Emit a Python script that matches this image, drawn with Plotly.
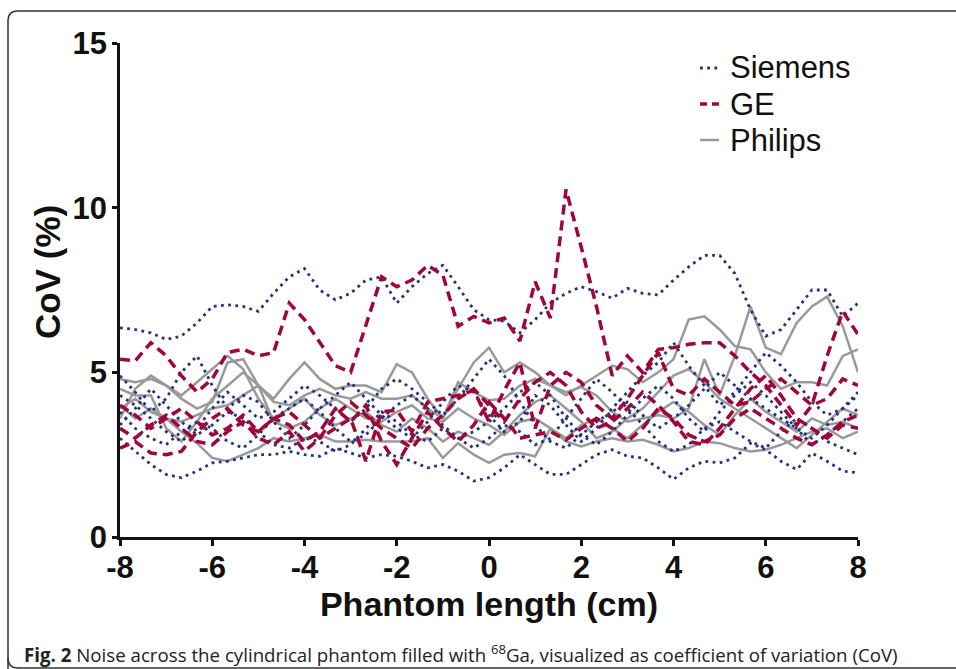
import plotly.graph_objects as go

# Positions along the phantom (cm)
X = [-8, -7.67, -7.33, -7, -6.67, -6.33, -6, -5.67, -5.33, -5, -4.67, -4.33, -4,
     -3.67, -3.33, -3, -2.67, -2.33, -2, -1.67, -1.33, -1, -0.67, -0.33, 0,
     0.33, 0.67, 1, 1.33, 1.67, 2, 2.33, 2.67, 3, 3.33, 3.67, 4, 4.33, 4.67,
     5, 5.33, 5.67, 6, 6.33, 6.67, 7, 7.33, 7.67, 8]

# Siemens CoV (%)
SIEMENS_1 = [6.35, 6.3, 6.2, 6.0, 6.1, 6.5, 7.0, 7.05, 7.0, 6.85, 7.4, 7.9, 8.15,
             7.5, 7.2, 7.4, 7.8, 7.9, 7.1, 7.6, 8.0, 8.25, 7.6, 6.9, 6.6,
             6.55, 6.2, 6.6, 7.1, 7.4, 7.6, 7.45, 7.25, 7.55, 7.4, 7.35, 7.8, 8.2, 8.55,
             8.55, 8.0, 6.9, 6.1, 6.3, 6.9, 7.5, 7.5, 6.7, 7.1]
SIEMENS_2 = [3.0, 2.6, 2.2, 1.9, 1.8, 2.0, 2.25, 2.3, 2.4, 2.5, 2.5, 2.6, 2.5,
             2.45, 2.7, 2.55, 2.4, 2.5, 2.45, 2.3, 2.1, 2.2, 2.0, 1.7, 1.8,
             2.1, 2.5, 2.2, 1.9, 1.9, 2.2, 2.5, 2.65, 2.45, 2.4, 2.1, 1.75, 2.1, 2.3,
             2.25, 2.4, 2.85, 2.65, 2.3, 2.05, 2.55, 2.3, 2.0, 1.95]
SIEMENS_3 = [4.9, 4.4, 3.8, 4.2, 5.0, 5.5, 4.6, 3.9, 4.3, 4.1, 3.5, 3.0, 3.4,
             3.9, 4.3, 4.7, 4.2, 3.7, 3.3, 3.0, 3.5, 4.1, 4.6, 4.4, 3.7,
             3.2, 3.5, 4.3, 4.0, 3.4, 2.9, 3.3, 3.9, 4.4, 4.9, 5.3, 5.9, 5.2, 4.6,
             4.0, 4.4, 5.0, 5.6, 5.2, 4.7, 4.1, 3.7, 3.9, 4.3]
SIEMENS_4 = [3.8, 3.3, 3.0, 2.8, 3.2, 3.5, 3.3, 2.9, 2.7, 3.1, 3.6, 3.9, 4.2,
             3.8, 3.3, 2.9, 3.1, 3.6, 4.0, 4.3, 3.9, 3.4, 3.0, 3.2, 3.5,
             3.9, 4.4, 4.7, 4.3, 3.6, 3.1, 2.8, 3.2, 3.7, 4.2, 4.6, 4.2, 3.6, 3.2,
             3.8, 4.3, 4.7, 4.3, 3.8, 3.3, 2.8, 3.1, 3.5, 3.9]
SIEMENS_5 = [3.4, 3.9, 4.5, 4.0, 3.5, 3.1, 3.4, 3.8, 3.6, 3.2, 2.8, 2.7, 3.0,
             2.9, 2.6, 2.8, 3.3, 3.8, 3.5, 3.1, 2.9, 3.3, 3.0, 2.7, 3.0,
             3.4, 3.2, 2.8, 3.0, 3.6, 4.2, 4.8, 4.4, 3.9, 3.4, 2.9, 2.6, 2.8, 3.3,
             3.5, 3.2, 2.9, 2.7, 3.2, 3.6, 3.3, 2.9, 2.7, 2.5]
SIEMENS_6 = [4.3, 4.0, 3.6, 3.2, 2.9, 3.3, 3.9, 4.4, 4.0, 3.6, 3.8, 4.2, 4.6,
             4.3, 3.9, 3.5, 3.9, 4.5, 4.8, 4.5, 4.1, 3.7, 4.2, 4.8, 5.4,
             4.9, 4.1, 3.4, 2.9, 2.7, 3.1, 3.5, 3.8, 4.1, 3.7, 3.3, 3.6, 4.0, 4.5,
             5.0, 4.6, 4.2, 3.9, 3.6, 3.3, 3.0, 3.4, 3.9, 4.4]

# GE CoV (%)
GE_1 = [5.4, 5.35, 5.9, 5.5, 4.9, 4.4, 4.8, 5.6, 5.7, 5.5, 5.6, 7.1, 6.6,
        5.9, 5.2, 5.0, 6.4, 7.9, 7.6, 7.8, 8.25, 7.95, 6.4, 6.7, 6.5,
        6.65, 5.95, 7.75, 6.65, 10.55, 8.8, 7.0, 4.9, 5.5, 5.0, 5.7, 5.75, 5.85, 5.9,
        5.9, 5.5, 5.0, 4.6, 4.0, 3.4, 4.0, 5.5, 6.85, 6.15]
GE_2 = [2.7, 2.9, 2.55, 2.5, 2.6, 3.2, 3.6, 3.9, 3.4, 3.2, 3.6, 3.8, 3.4,
        3.0, 3.3, 3.6, 2.3, 3.8, 3.85, 3.2, 4.1, 4.2, 4.3, 4.45, 3.5,
        4.45, 5.3, 3.3, 4.6, 5.0, 4.7, 4.0, 3.6, 4.2, 4.9, 5.6, 4.5, 4.3, 4.8,
        4.4, 4.0, 4.1, 4.5, 4.8, 4.4, 4.0, 4.2, 4.8, 4.6]
GE_3 = [4.0, 3.7, 3.3, 3.6, 3.9, 3.5, 3.1, 3.3, 3.7, 3.2, 3.6, 3.4, 2.9,
        3.2, 3.9, 3.5, 4.0, 2.9, 2.2, 3.0, 3.8, 3.3, 2.9, 3.4, 4.1,
        3.6, 3.0, 3.1, 3.2, 2.95, 3.3, 3.6, 3.3, 2.9, 3.3, 3.9, 3.6, 3.1, 2.9,
        3.1, 3.6, 3.9, 3.6, 3.3, 3.0, 2.8, 3.1, 3.5, 3.7]
GE_4 = [3.3, 3.0, 3.4, 3.7, 3.3, 2.9, 2.8, 3.2, 3.5, 3.0, 2.8, 3.2, 2.6,
        3.0, 3.7, 4.1, 3.7, 3.3, 3.0, 2.7, 3.3, 3.7, 4.2, 4.5, 4.0,
        3.5, 4.2, 4.7, 5.0, 4.6, 3.8, 3.3, 3.5, 3.9, 4.4, 4.0, 3.5, 2.9, 2.8,
        3.3, 3.9, 4.5, 4.9, 4.3, 3.6, 3.3, 3.0, 3.4, 3.3]

# Philips CoV (%)
PHILIPS_1 = [4.8, 4.7, 4.8, 4.6, 4.2, 3.9, 4.1, 5.3, 5.4, 4.6, 4.2, 4.8, 5.3,
             4.8, 4.5, 4.6, 4.6, 4.4, 5.25, 5.0, 4.2, 3.6, 4.5, 5.3, 5.75,
             5.0, 5.3, 5.0, 4.6, 4.3, 4.6, 4.9, 5.2, 5.1, 4.7, 5.0, 5.4, 6.6, 6.7,
             6.3, 5.8, 5.7, 5.0, 4.5, 4.7, 4.7, 4.6, 5.5, 5.7]
PHILIPS_2 = [4.5, 4.3, 4.3, 3.3, 2.9, 3.5, 4.2, 4.6, 5.0, 4.6, 4.1, 4.0, 4.3,
             4.5, 4.3, 4.2, 4.4, 4.2, 4.2, 4.3, 3.9, 3.6, 4.7, 4.4, 4.15,
             4.2, 4.6, 4.8, 4.6, 4.4, 4.55, 4.3, 3.8, 3.5, 3.6, 3.7, 3.6, 3.9, 5.4,
             4.3, 5.5, 7.0, 5.75, 5.55, 6.5, 7.0, 7.3, 6.4, 5.0]
PHILIPS_3 = [3.9, 4.2, 3.8, 3.6, 3.5, 3.7, 3.9, 4.0, 4.3, 4.6, 3.5, 3.3, 3.5,
             3.9, 4.2, 3.9, 3.6, 3.5, 3.8, 4.0, 3.6, 3.5, 3.9, 3.6, 3.4,
             3.1, 3.5, 3.6, 3.3, 3.0, 3.4, 3.6, 3.3, 3.0, 3.4, 3.8, 4.1, 3.8, 3.4,
             3.1, 3.7, 4.2, 3.8, 3.5, 3.2, 3.6, 3.4, 3.5, 3.3]
PHILIPS_4 = [4.0, 3.6, 3.9, 3.6, 3.2, 2.85, 2.4, 2.3, 2.5, 2.7, 3.0, 2.9, 3.0,
             3.1, 2.9, 2.9, 2.95, 2.9, 2.9, 2.9, 3.0, 2.4, 2.85, 2.5, 2.25,
             2.5, 2.55, 2.45, 3.3, 2.9, 2.75, 2.9, 3.0, 2.9, 2.95, 2.8, 2.6, 2.7, 2.9,
             2.85, 2.7, 2.6, 2.65, 2.8, 3.0, 3.2, 3.3, 3.0, 3.2]
PHILIPS_5 = [3.6, 4.5, 4.9, 4.6, 4.3, 4.7, 5.1, 5.5, 5.1, 4.2, 3.6, 3.9, 4.2,
             3.7, 3.4, 3.6, 3.8, 3.4, 3.2, 3.6, 3.3, 2.9, 3.2, 3.0, 2.8,
             3.2, 3.7, 4.1, 4.3, 3.9, 3.5, 3.0, 3.2, 3.6, 3.9, 4.4, 4.9, 5.1, 4.7,
             4.2, 3.9, 3.6, 3.3, 3.0, 2.7, 3.1, 3.5, 3.9, 3.7]

X_TICKS = [-8, -6, -4, -2, 0, 2, 4, 6, 8]
Y_TICKS = [0, 5, 10, 15]

SIEMENS = [SIEMENS_1, SIEMENS_2, SIEMENS_3, SIEMENS_4, SIEMENS_5, SIEMENS_6]
GE = [GE_1, GE_2, GE_3, GE_4]
PHILIPS = [PHILIPS_1, PHILIPS_2, PHILIPS_3, PHILIPS_4, PHILIPS_5]
VENDORS = ["Siemens", "GE", "Philips"]

C_SIEMENS = "#24347F"
C_GE = "#A00638"
C_PHILIPS = "#999999"
DASH_SIEMENS = "2.8px,4.4px"
DASH_GE = "10px,6px"

fig = go.Figure()

for ys in PHILIPS:
    fig.add_trace(go.Scatter(x=X, y=ys, mode="lines", name="Philips", showlegend=False,
                             line=dict(color=C_PHILIPS, width=2.5)))
for ys in SIEMENS:
    fig.add_trace(go.Scatter(x=X, y=ys, mode="lines", name="Siemens", showlegend=False,
                             line=dict(color=C_SIEMENS, width=2.8, dash=DASH_SIEMENS)))
for ys in GE:
    fig.add_trace(go.Scatter(x=X, y=ys, mode="lines", name="GE", showlegend=False,
                             line=dict(color=C_GE, width=3.5, dash=DASH_GE)))

W, H = 956, 669
L, R, T, B = 120, 98, 43, 132
pw, ph = W - L - R, H - T - B


def px(xp):
    return (xp - L) / pw


def py(yp):
    return (H - B - yp) / ph


# rounded frame around the figure
frame = (f"M {px(8)},{py(690)} L {px(8)},{py(21)} Q {px(8)},{py(11)} {px(18)},{py(11)} "
         f"L {px(980)},{py(11)}")
frame_bottom = f"M {px(8)},{py(658)} Q {px(8)},{py(668)} {px(18)},{py(668)} L {px(980)},{py(668)}"

shapes = [
    dict(type="path", xref="paper", yref="paper", path=frame,
         line=dict(color="#333333", width=1.5)),
    dict(type="path", xref="paper", yref="paper", path=frame_bottom,
         line=dict(color="#333333", width=1.5)),
]

# legend (symbol + label)
legend_styles = [
    dict(color=C_SIEMENS, width=2.8, dash=DASH_SIEMENS),
    dict(color=C_GE, width=3.5, dash="7px,5px"),
    dict(color=C_PHILIPS, width=2.5),
]
legend_y = [68, 104, 140]
annotations = []
for name, st, yy in zip(VENDORS, legend_styles, legend_y):
    shapes.append(dict(type="line", xref="paper", yref="paper",
                       x0=px(700), x1=px(719), y0=py(yy), y1=py(yy), line=st))
    annotations.append(dict(xref="paper", yref="paper", x=px(728), y=py(yy),
                            xanchor="left", yanchor="middle", showarrow=False, text=name,
                            font=dict(family="Liberation Sans, Arial, sans-serif",
                                      size=31, color="#111111")))

annotations.append(dict(xref="paper", yref="paper", x=px(47), y=py(272), xanchor="center",
                        yanchor="middle", showarrow=False, textangle=-90,
                        text="<b>CoV (%)</b>",
                        font=dict(family="Liberation Sans, Arial, sans-serif",
                                  size=35, color="#111111")))
annotations.append(dict(xref="paper", yref="paper", x=px(22), y=py(653), xanchor="left",
                        yanchor="middle", showarrow=False,
                        text="<b>Fig. 2</b> Noise across the cylindrical phantom filled with "
                             "<sup>68</sup>Ga, visualized as coefficient of variation (CoV)",
                        font=dict(family="Open Sans, Noto Sans, sans-serif", size=18.7,
                                  color="#222222")))

tickfont = dict(size=31, family="Liberation Sans, Arial, sans-serif", color="#111111")
fig.update_layout(
    width=W, height=H,
    margin=dict(l=L, r=R, t=T, b=B),
    paper_bgcolor="white", plot_bgcolor="white",
    font=dict(family="Liberation Sans, Arial, sans-serif", color="#111111"),
    showlegend=False,
    xaxis=dict(range=[-8, 8], tickvals=X_TICKS, ticktext=[f"<b>{v}</b>" for v in X_TICKS],
               showgrid=False, zeroline=False, showline=True, linecolor="#111111",
               linewidth=2.5, ticks="outside", ticklen=6, tickwidth=2.5, tickcolor="#111111",
               tickfont=tickfont, ticklabelstandoff=-5,
               title=dict(text="<b>Phantom length (cm)</b>", standoff=6,
                          font=dict(size=34, color="#111111"))),
    yaxis=dict(range=[0, 15], tickvals=Y_TICKS, ticktext=[f"<b>{v}</b>" for v in Y_TICKS],
               showgrid=False, zeroline=False, showline=True, linecolor="#111111",
               linewidth=2.5, ticks="outside", ticklen=5, tickwidth=2.5, tickcolor="#111111",
               tickfont=tickfont, ticklabelstandoff=-1),
    shapes=shapes,
    annotations=annotations,
)

fig.write_html("out.html")
